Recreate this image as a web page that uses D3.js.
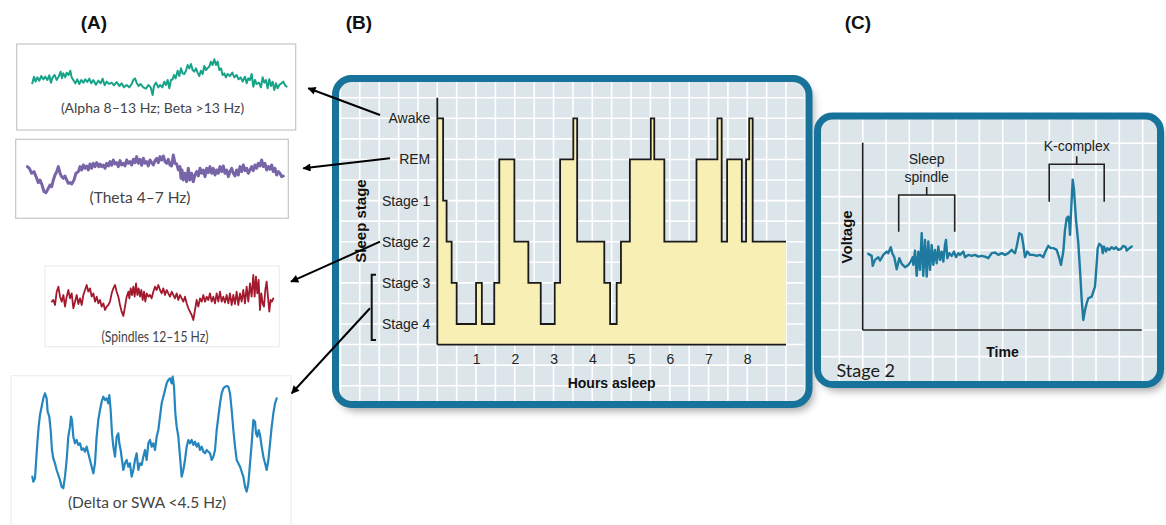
<!DOCTYPE html>
<html>
<head>
<meta charset="utf-8">
<script src="https://cdn.jsdelivr.net/npm/d3@7"></script>
<style>
  body { margin: 0; background: #fff; }
  svg { display: block; }
</style>
</head>
<body>
<svg id="fig" width="1166" height="525"></svg>
<script>
// ---------- (B) hypnogram ----------
const stages = ["Awake", "REM", "Stage 1", "Stage 2", "Stage 3", "Stage 4"];
const hourTicks = [1, 2, 3, 4, 5, 6, 7, 8];
// hour at which each episode begins, and the stage of that episode
const episodeStart = [0, 0.15, 0.24, 0.37, 0.5, 1.0, 1.15, 1.47, 1.6, 1.99, 2.35, 2.67, 3.03, 3.17, 3.51, 3.61,
  4.31, 4.46, 4.63, 4.74, 4.97, 5.51, 5.6, 5.86, 6.69, 7.23, 7.34, 7.48, 7.86, 7.97, 8.05, 8.14];
const episodeStage = ["Awake", "Stage 1", "Stage 2", "Stage 3", "Stage 4", "Stage 3", "Stage 4", "Stage 3", "REM",
  "Stage 2", "Stage 3", "Stage 4", "Stage 3", "REM", "Awake", "Stage 2", "Stage 3", "Stage 4", "Stage 3", "Stage 2",
  "REM", "Awake", "REM", "Stage 2", "REM", "Awake", "Stage 2", "REM", "Stage 2", "REM", "Awake", "Stage 2"];
const nightEnd = 9;

// ---------- (C) stage 2 EEG: time (arbitrary units), voltage (arbitrary units) ----------
const stage2Time = [5.6, 9, 10, 12.3, 15.6, 17.3, 20.6, 24, 25.6, 28, 29.6, 31.6, 34, 36.6, 39, 42.3, 45.6, 48, 50,
  50.6, 52.3, 54, 55.6, 57.3, 59, 60.6, 62.3, 64, 65.6, 67.3, 69, 70.6, 72.3, 74, 75.6, 77.3, 79, 80.6, 82.3, 83.3,
  84.6, 86.6, 89, 91.3, 93.3, 95.6, 97.3, 100.6, 102.3, 105.6, 109, 112.3, 115.6, 119, 122.3, 125.6, 129, 132.3,
  135.6, 139, 142.3, 145.6, 149, 150.6, 152.3, 154, 156.6, 159, 160.6, 162.3, 164.6, 167.3, 170.6, 174, 177.3,
  180.6, 182.3, 185.6, 188, 190.6, 194, 196.6, 198.3, 200.6, 202.3, 204, 205.6, 206.6, 207.3, 208.3, 210, 211.3,
  213.3, 215.6, 217.3, 219, 220.6, 222.3, 224, 225.6, 229, 232.3, 234, 235, 236.6, 238, 239, 240, 241.3, 243.3,
  244.6, 246.6, 249, 251.3, 253.3, 255.6, 258, 260.6, 263, 264, 265.6, 269];
const stage2Voltage = [-1, -3, -13, -7, -4.3, -7.7, -2, 1.3, -0.3, 5.7, -0.3, -4.3, -16.3, -5.3, -11, -14.3, -12,
  -8.7, -4.3, -12, 2.3, -23, 1.3, -17, 19.7, -23, 13, -23.7, 11.3, -17, 8, -12, 3, -10.3, 6.3, -7, 1.3, -8.7, 8, 13,
  -5.3, -0.3, -3, 1.3, -4.3, -0.3, -2, 1.3, -4.3, -2, -3, -2, -3.7, -3, -3.7, -5.3, -0.3, 0.3, -2, -0.3, -2, -0.3,
  3, 1.3, -0.3, 6.3, 19.7, 18, 8, -4.3, 1.3, -2, -2, -3, -2, -4.3, 0.3, 7, 4.7, 4.7, 3, -5.3, -12, 1.3, 23, 34.7,
  36.3, 29.7, 18, 39.7, 73, 63, 33, 9.7, -17, -47, -67, -57, -50.3, -45.3, -43.7, -33.7, -10.3, 4.7, 9, 8, 6.3,
  -0.3, 6.3, 1.3, 4.7, 3, 5.7, 3.7, 5.7, 3, 3.7, 7, 5.7, 2.3, 3.7, 6.3];

// ---------- (A) EEG rhythms: [time, amplitude] in arbitrary units ----------
const alphaBetaTrace = [[0,-10],[5,10],[10,-5],[15,8],[21,-2],[27,12],[33,2],[39,10],[45,0],[51,14],[56,-8],[61,8],
  [67,15],[73,0],[79,10],[85,25],[89,5],[93,20],[99,8],[103,22],[109,15],[114,28],[118,8],[123,0],[129,-10],[135,2],
  [141,-12],[147,0],[153,-8],[159,2],[165,-6],[171,4],[177,-10],[183,0],[191,-14],[198,-2],[205,-10],[211,4],
  [217,-16],[223,-5],[231,-12],[238,-8],[245,-16],[253,-6],[261,-18],[268,-10],[275,-22],[283,-15],[291,-22],
  [298,-12],[303,0],[308,5],[313,-8],[319,-18],[325,-12],[333,-22],[341,-26],[348,-15],[355,-22],[361,-45],
  [365,-18],[371,-8],[378,-22],[383,-15],[390,-22],[396,-5],[401,-15],[406,0],[411,-25],[416,0],[421,2],[425,15],
  [430,5],[436,28],[441,12],[446,35],[451,20],[456,18],[461,28],[466,45],[471,35],[476,48],[481,30],[486,25],
  [491,35],[496,22],[501,12],[506,28],[511,18],[516,42],[521,30],[526,36],[531,40],[536,55],[541,45],[546,62],
  [551,45],[556,55],[561,30],[566,35],[571,15],[576,20],[581,8],[586,18],[593,12],[600,22],[606,8],[613,15],
  [619,2],[625,8],[631,-5],[638,10],[643,-10],[648,5],[653,0],[658,18],[663,-20],[668,0],[673,-12],[680,-8],
  [686,-22],[691,8],[696,-8],[701,0],[706,-25],[711,2],[716,-18],[721,-5],[726,-30],[731,-10],[736,-25],
  [741,-15],[753,-5],[758,-15],[763,-20]];

const thetaTrace = [[2,20],[8,15],[15,0],[22,5],[28,-10],[35,-28],[40,-20],[45,-32],[52,-55],[58,-58],[65,-45],
  [70,-35],[75,-40],[80,-20],[85,-5],[90,5],[95,20],[100,0],[105,-10],[110,-15],[115,-8],[120,-20],[125,-30],
  [130,-28],[135,-32],[142,-20],[148,0],[155,5],[160,20],[165,10],[170,25],[175,15],[180,22],[185,10],[190,28],
  [195,15],[200,30],[205,20],[210,32],[216,20],[220,28],[225,20],[230,25],[235,15],[240,30],[245,22],[250,35],
  [255,24],[260,40],[265,28],[270,32],[275,20],[280,38],[285,25],[290,30],[295,22],[300,40],[305,30],[310,35],
  [315,25],[320,42],[325,32],[330,50],[335,30],[340,42],[345,24],[350,45],[355,30],[360,35],[365,22],[370,40],
  [375,32],[380,25],[385,38],[390,45],[395,32],[400,50],[405,40],[410,52],[415,35],[420,30],[425,42],[430,25],
  [435,22],[440,55],[445,30],[450,28],[455,10],[460,20],[463,-15],[466,10],[470,-20],[475,0],[480,-25],[485,15],
  [490,-20],[495,0],[500,-25],[505,-5],[510,5],[515,-8],[520,15],[525,0],[530,10],[535,-10],[540,15],[545,2],
  [550,20],[555,0],[560,15],[565,-5],[570,10],[575,0],[580,20],[585,5],[590,22],[595,0],[600,10],[605,-10],
  [610,5],[615,15],[620,0],[625,-8],[630,10],[635,-5],[640,20],[645,5],[650,25],[655,8],[660,15],[665,0],
  [670,10],[675,20],[680,8],[685,25],[690,15],[695,30],[700,22],[705,40],[710,20],[715,30],[720,10],[725,20],
  [730,12],[735,25],[740,5],[745,15],[750,-5],[755,5],[760,0],[765,-10],[770,-8]];

const spindleTrace = [[0,-5],[5,0],[10,-15],[15,25],[20,40],[25,10],[30,-5],[35,15],[40,-20],[45,10],[50,30],
  [55,5],[60,20],[65,-25],[70,-5],[75,15],[80,-12],[85,5],[90,-15],[95,15],[100,30],[105,45],[110,25],[115,35],
  [120,10],[125,20],[130,-5],[135,10],[140,-10],[145,0],[150,-20],[155,-10],[160,-30],[165,-20],[170,-15],
  [175,-5],[180,20],[185,35],[190,45],[195,25],[200,10],[205,-15],[210,-35],[215,-48],[220,-20],[225,10],
  [230,25],[233,5],[237,35],[241,15],[245,40],[249,10],[253,50],[257,15],[261,35],[265,10],[269,30],[273,0],
  [277,25],[281,-5],[285,20],[290,10],[295,15],[300,5],[305,25],[310,40],[315,30],[320,45],[325,30],[330,20],
  [335,35],[340,15],[345,30],[350,20],[355,10],[360,25],[365,15],[370,5],[375,20],[380,0],[385,15],[390,5],
  [395,-5],[400,10],[405,-10],[410,-25],[415,-35],[420,-45],[425,-60],[430,-30],[435,0],[440,-20],[445,5],
  [450,-5],[455,15],[460,-5],[465,10],[470,0],[475,20],[480,-5],[485,10],[490,-10],[495,20],[500,-5],[505,25],
  [510,-5],[515,10],[520,-8],[525,15],[530,-10],[535,20],[540,-15],[545,15],[550,-12],[555,25],[560,-15],
  [565,20],[570,-5],[575,30],[580,-10],[585,40],[590,-5],[595,50],[600,10],[605,75],[609,10],[613,70],[617,20],
  [621,60],[625,-30],[629,20],[633,-10],[637,-20],[641,30],[645,55],[649,10],[653,-35],[657,0],[661,-5],[665,5]];

const deltaTrace = [[0,-100],[3,-115],[8,-105],[11,-60],[15,0],[19,50],[23,85],[28,110],[33,135],[38,150],
  [43,135],[46,95],[51,80],[55,40],[59,-20],[63,-45],[68,-60],[73,-80],[78,-95],[83,-110],[88,-130],[93,-135],
  [98,-100],[103,-50],[108,20],[113,50],[116,80],[119,70],[123,20],[128,0],[133,10],[138,-5],[143,0],[148,-20],
  [153,-15],[158,-25],[163,-10],[168,-30],[173,-50],[178,-70],[183,-90],[188,-60],[193,20],[198,70],[203,100],
  [208,125],[213,140],[218,130],[223,135],[228,120],[231,145],[235,100],[239,30],[243,-10],[248,-40],[253,20],
  [258,30],[261,0],[265,-20],[269,-50],[273,-80],[278,-60],[283,-50],[288,-70],[293,-60],[298,-100],[303,-80],
  [308,-50],[313,-30],[318,-80],[323,-60],[328,-65],[333,-40],[338,-20],[343,-50],[348,0],[353,10],[358,-10],
  [363,0],[368,-20],[373,20],[378,40],[383,80],[388,120],[393,140],[398,160],[403,180],[408,190],[413,195],
  [418,180],[421,200],[425,170],[429,90],[433,50],[438,20],[443,-40],[448,-100],[453,-80],[458,-50],[463,-10],
  [468,10],[473,0],[478,10],[483,-5],[488,5],[493,-10],[498,0],[503,-20],[508,-10],[513,-25],[518,-30],
  [523,-20],[528,-25],[533,-30],[538,-50],[543,-40],[548,-20],[553,40],[558,80],[563,120],[568,150],[573,165],
  [578,170],[583,172],[588,170],[593,150],[598,100],[603,40],[608,-10],[613,-50],[618,-60],[623,-70],[628,-85],
  [633,-100],[638,-130],[643,-145],[648,-120],[653,-60],[658,0],[663,70],[668,65],[671,30],[675,20],[679,40],
  [683,25],[688,-10],[693,-40],[698,-60],[703,-80],[708,-50],[713,0],[718,50],[723,90],[728,120],[733,135]];

// ---------- drawing ----------
const SANS = "'Liberation Sans', Arial, sans-serif";
const CAPTION = "Lato, 'Open Sans', sans-serif";
const PANEL_BG = "#dce5e9";
const PANEL_EDGE = "#18739a";

const svg = d3.select("#fig");
const defs = svg.append("defs");

const shadow = defs.append("filter").attr("id", "soft-shadow")
  .attr("x", "-5%").attr("y", "-5%").attr("width", "115%").attr("height", "120%");
shadow.append("feDropShadow").attr("dx", 4).attr("dy", 6).attr("stdDeviation", 4)
  .attr("flood-color", "#000").attr("flood-opacity", 0.38);

defs.append("marker").attr("id", "arrow-head")
  .attr("viewBox", "0 0 10 10").attr("refX", 9).attr("refY", 5)
  .attr("markerWidth", 9).attr("markerHeight", 8).attr("markerUnits", "userSpaceOnUse")
  .attr("orient", "auto")
  .append("path").attr("d", "M0,0 L10,5 L0,10 Z").attr("fill", "#000");

// Rounded teal-framed panel with a white grid; returns the layer for its content
function panel(id, box, gridX, gridY) {
  const g = svg.append("g");
  g.append("rect").attr("x", box.x).attr("y", box.y).attr("width", box.w).attr("height", box.h)
    .attr("rx", box.r).attr("fill", PANEL_BG).attr("filter", "url(#soft-shadow)");
  defs.append("clipPath").attr("id", id)
    .append("rect").attr("x", box.x).attr("y", box.y).attr("width", box.w).attr("height", box.h).attr("rx", box.r);
  const grid = g.append("g").attr("clip-path", `url(#${id})`)
    .attr("stroke", "#fff").attr("stroke-width", 1.6);
  grid.selectAll("line.v").data(gridX).join("line").attr("class", "v")
    .attr("x1", d => d).attr("x2", d => d).attr("y1", box.y).attr("y2", box.y + box.h);
  grid.selectAll("line.h").data(gridY).join("line").attr("class", "h")
    .attr("y1", d => d).attr("y2", d => d).attr("x1", box.x).attr("x2", box.x + box.w);
  g.append("rect").attr("x", box.x).attr("y", box.y).attr("width", box.w).attr("height", box.h)
    .attr("rx", box.r).attr("fill", "none").attr("stroke", PANEL_EDGE).attr("stroke-width", 7);
  return g;
}

// ----- panel titles -----
svg.append("g").attr("font-family", SANS).attr("font-weight", "bold").attr("font-size", 19)
  .attr("text-anchor", "middle").attr("fill", "#111")
  .selectAll("text").data([["(A)", 94], ["(B)", 359], ["(C)", 858]]).join("text")
  .attr("x", d => d[1]).attr("y", 29).text(d => d[0]);

// ----- (B) -----
const xB = d3.scaleLinear().domain([0, nightEnd]).range([437.3, 786]);
const yB = d3.scalePoint().domain(stages).range([118.3, 324]);
const stageIdx = d3.scaleLinear().domain([0, stages.length - 1]).range([118.3, 324]);
const baseB = stageIdx(5.5);

const gB = panel("clip-b", { x: 335.5, y: 78.5, w: 473.5, h: 326, r: 16 },
  d3.range(-2.5, 9.51, 0.5).map(xB), d3.range(-1, 7.01, 0.5).map(stageIdx));

const episodes = episodeStart.map((t, i) => ({ t, s: episodeStage[i] }));
episodes.push({ t: nightEnd, s: episodeStage[episodeStage.length - 1] });

gB.append("path").datum(episodes)
  .attr("fill", "#f7efb3")
  .attr("d", d3.area().x(d => xB(d.t)).y0(baseB).y1(d => yB(d.s)).curve(d3.curveStepAfter));
gB.append("path").datum(episodes)
  .attr("fill", "none").attr("stroke", "#1a1a1a").attr("stroke-width", 1.8)
  .attr("d", d3.line().x(d => xB(d.t)).y(d => yB(d.s)).curve(d3.curveStepAfter));

// axis lines
gB.append("line").attr("x1", xB(0)).attr("x2", xB(0)).attr("y1", stageIdx(-0.5)).attr("y2", baseB)
  .attr("stroke", "#1a1a1a").attr("stroke-width", 1.8);
gB.append("line").attr("x1", xB(0)).attr("x2", xB(nightEnd)).attr("y1", baseB).attr("y2", baseB)
  .attr("stroke", "#1a1a1a").attr("stroke-width", 1.8);

const xAxisB = gB.append("g").attr("transform", `translate(0,${baseB})`)
  .call(d3.axisBottom(xB).tickValues(hourTicks).tickSize(0).tickPadding(9).tickFormat(d3.format("d")));
const yAxisB = gB.append("g").attr("transform", `translate(${xB(0)},0)`)
  .call(d3.axisLeft(yB).tickSize(0).tickPadding(7));
[xAxisB, yAxisB].forEach(a => {
  a.select(".domain").remove();
  a.selectAll("text").attr("font-family", SANS).attr("font-size", 14).attr("fill", "#222");
});

gB.append("text").attr("x", xB(4.5)).attr("y", 388).attr("text-anchor", "middle")
  .attr("font-family", SANS).attr("font-weight", "bold").attr("font-size", 14).attr("fill", "#111")
  .text("Hours asleep");
gB.append("text").attr("transform", `translate(366,${221}) rotate(-90)`).attr("text-anchor", "middle")
  .attr("font-family", SANS).attr("font-weight", "bold").attr("font-size", 15).attr("fill", "#111")
  .text("Sleep stage");

// bracket grouping Stage 3 and Stage 4 (slow-wave sleep)
gB.append("path")
  .attr("d", `M376,${yB("Stage 3") - 8} H371.7 V${yB("Stage 4") + 16} H376`)
  .attr("fill", "none").attr("stroke", "#111").attr("stroke-width", 2);

// ----- (C) -----
const xC = d3.scaleLinear().domain([0, 279]).range([862.7, 1141.7]);
const yC = d3.scaleLinear().domain([-77, 110]).range([330, 142.7]);
const gC = panel("clip-c", { x: 817.5, y: 116, w: 343, h: 268.5, r: 15 },
  d3.range(-3, 14).map(k => xC(0) + k * 23.33), d3.range(-3, 12).map(k => yC(-77) - k * 26.67));

gC.append("line").attr("x1", xC(0)).attr("x2", xC(0)).attr("y1", yC(110)).attr("y2", yC(-77))
  .attr("stroke", "#1a1a1a").attr("stroke-width", 1.6);
gC.append("line").attr("x1", xC(0)).attr("x2", xC(279)).attr("y1", yC(-77)).attr("y2", yC(-77))
  .attr("stroke", "#1a1a1a").attr("stroke-width", 1.6);

gC.append("path").datum(d3.zip(stage2Time, stage2Voltage))
  .attr("fill", "none").attr("stroke", "#1f7aa0").attr("stroke-width", 2.4)
  .attr("stroke-linejoin", "round").attr("stroke-linecap", "round")
  .attr("d", d3.line().x(d => xC(d[0])).y(d => yC(d[1])));

const brackets = [
  { from: 36, to: 92, top: 195, legs: 231.7, label: ["Sleep", "spindle"] },
  { from: 186.5, to: 241.5, top: 164.3, legs: 201.7, label: ["K-complex"] }
];
brackets.forEach(b => {
  const mid = (xC(b.from) + xC(b.to)) / 2;
  gC.append("path")
    .attr("d", `M${xC(b.from)},${b.legs} V${b.top} H${xC(b.to)} V${b.legs} M${mid},${b.top} V${b.top - 8}`)
    .attr("fill", "none").attr("stroke", "#222").attr("stroke-width", 1.6);
  const t = gC.append("text").attr("text-anchor", "middle").attr("font-family", SANS)
    .attr("font-size", 14).attr("fill", "#222");
  b.label.forEach((line, i) => {
    t.append("tspan").attr("x", mid)
      .attr("y", b.top - 13.5 - (b.label.length - 1 - i) * 17.5).text(line);
  });
});

gC.append("text").attr("transform", `translate(851.5,${yC(16)}) rotate(-90)`).attr("text-anchor", "middle")
  .attr("font-family", SANS).attr("font-weight", "bold").attr("font-size", 15).attr("fill", "#111")
  .text("Voltage");
gC.append("text").attr("x", 1002.5).attr("y", 356.5).attr("text-anchor", "middle")
  .attr("font-family", SANS).attr("font-weight", "bold").attr("font-size", 14).attr("fill", "#111")
  .text("Time");
gC.append("text").attr("x", 836.5).attr("y", 377).attr("font-family", CAPTION)
  .attr("font-size", 18).attr("fill", "#1a1a1a").text("Stage 2");

// ----- (A) EEG strips -----
const strips = [
  { data: alphaBetaTrace, box: [16.7, 44, 279, 86], edge: "#c6c6c6", color: "#16a387", width: 2,
    x: [0, 768, 32.3, 288.3], y: [-60, 60, 100, 60],
    caption: "(Alpha 8–13 Hz; Beta >13 Hz)", cx: 152.5, cy: 113.3, size: 14, squeeze: 1 },
  { data: thetaTrace, box: [15.7, 139.3, 272.6, 79], edge: "#c6c6c6", color: "#7865a8", width: 3,
    x: [0, 770, 26.7, 283.3], y: [-60, 60, 193.3, 153.3],
    caption: "(Theta 4–7 Hz)", cx: 140, cy: 202.7, size: 15.5, squeeze: 1 },
  { data: spindleTrace, box: [45, 266, 234.3, 80.7], edge: "#eeeeee", color: "#a3192d", width: 1.8,
    x: [0, 665, 51.7, 273.3], y: [-60, 90, 320, 270],
    caption: "(Spindles 12–15 Hz)", cx: 155, cy: 341.5, size: 16, squeeze: 0.76 },
  { data: deltaTrace, box: [11, 375.7, 280, 160], edge: "#eeeeee", color: "#2586bf", width: 2.2,
    x: [0, 733, 32.3, 276.7], y: [-150, 200, 493.3, 376.7],
    caption: "(Delta or SWA <4.5 Hz)", cx: 147, cy: 508.3, size: 15.5, squeeze: 1 }
];
const gA = svg.append("g");
strips.forEach(s => {
  gA.append("rect").attr("x", s.box[0]).attr("y", s.box[1]).attr("width", s.box[2]).attr("height", s.box[3])
    .attr("fill", "#fff").attr("stroke", s.edge).attr("stroke-width", 1.2);
  const sx = d3.scaleLinear().domain([s.x[0], s.x[1]]).range([s.x[2], s.x[3]]);
  const sy = d3.scaleLinear().domain([s.y[0], s.y[1]]).range([s.y[2], s.y[3]]);
  gA.append("path").datum(s.data)
    .attr("fill", "none").attr("stroke", s.color).attr("stroke-width", s.width)
    .attr("stroke-linejoin", "round").attr("stroke-linecap", "round")
    .attr("d", d3.line().x(d => sx(d[0])).y(d => sy(d[1])));
  gA.append("text")
    .attr("transform", `translate(${s.cx},${s.cy}) scale(${s.squeeze},1)`)
    .attr("text-anchor", "middle").attr("font-family", CAPTION).attr("font-size", s.size)
    .attr("fill", "#444").text(s.caption);
});

// ----- arrows linking stages in (B) to rhythms in (A) -----
const links = [
  [380, 115, 308.3, 88.3],
  [390, 158.3, 303.3, 168.3],
  [380, 241.7, 291, 281.7],
  [370, 308.3, 291.7, 393.3]
];
svg.append("g").selectAll("line").data(links).join("line")
  .attr("x1", d => d[0]).attr("y1", d => d[1]).attr("x2", d => d[2]).attr("y2", d => d[3])
  .attr("stroke", "#000").attr("stroke-width", 2).attr("marker-end", "url(#arrow-head)");
</script>
</body>
</html>
